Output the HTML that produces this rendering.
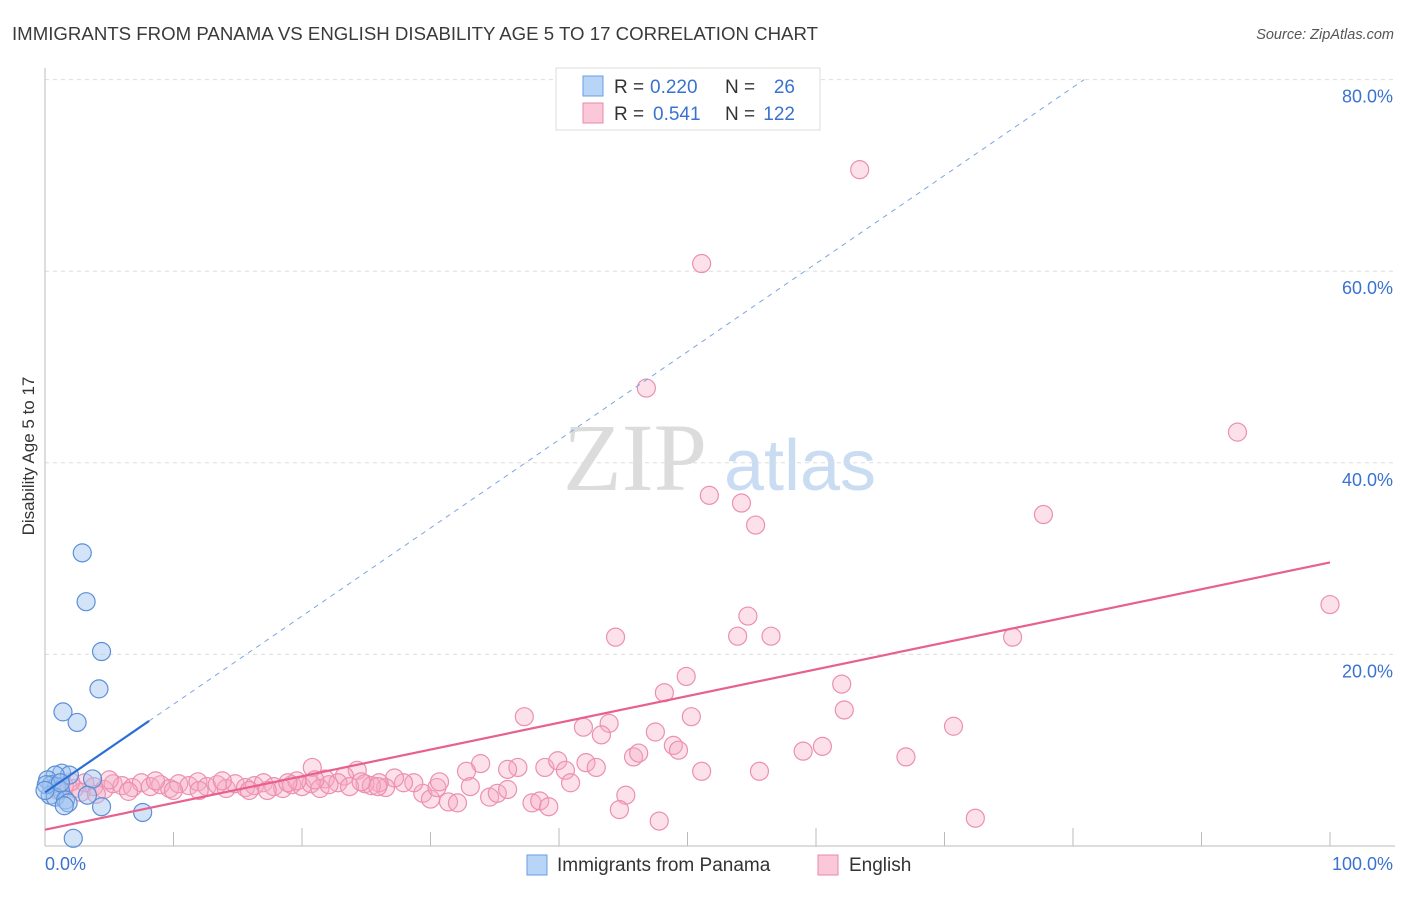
<!DOCTYPE html>
<html><head><meta charset="utf-8"><style>
body{margin:0;background:#fff;font-family:"Liberation Sans",sans-serif}
</style></head><body>
<svg id="chart" width="1406" height="892" xmlns="http://www.w3.org/2000/svg" font-family="Liberation Sans, sans-serif">
<text x="12" y="40" font-size="18" fill="#3a3a3a" textLength="806" lengthAdjust="spacingAndGlyphs">IMMIGRANTS FROM PANAMA VS ENGLISH DISABILITY AGE 5 TO 17 CORRELATION CHART</text>
<text x="1394" y="39" font-size="14.5" fill="#555" text-anchor="end" font-style="italic">Source: ZipAtlas.com</text>
<g>
<text x="635" y="490" font-size="96" font-family="Liberation Serif, serif" fill="#dcdcdc" text-anchor="middle">ZIP</text>
<text x="800" y="490" font-size="72" fill="#c9dcf2" text-anchor="middle">atlas</text>
</g>
<text transform="translate(34,456) rotate(-90)" font-size="17" fill="#333" text-anchor="middle">Disability Age 5 to 17</text>
<g id="grid"></g>
<g id="axes"></g>
<g id="points"></g>
<g id="lines"></g>
<g>
<rect x="556" y="68" width="264" height="62" fill="#fff" stroke="#ddd"/>
<rect x="583" y="76" width="20" height="20" fill="#b8d4f6" stroke="#6a9ee0"/>
<rect x="583" y="103" width="20" height="20" fill="#fac8d8" stroke="#e88aac"/>
<text x="614" y="93" font-size="19" fill="#333">R =</text>
<text x="650" y="93" font-size="19" fill="#3a72d0">0.220</text>
<text x="725" y="93" font-size="19" fill="#333">N =</text>
<text x="795" y="93" font-size="19" fill="#3a72d0" text-anchor="end">26</text>
<text x="614" y="120" font-size="19" fill="#333">R =</text>
<text x="653" y="120" font-size="19" fill="#3a72d0">0.541</text>
<text x="725" y="120" font-size="19" fill="#333">N =</text>
<text x="795" y="120" font-size="19" fill="#3a72d0" text-anchor="end">122</text>
</g>
<g>
<rect x="527" y="855" width="20" height="20" fill="#b8d4f6" stroke="#6a9ee0"/>
<text x="557" y="871" font-size="19" fill="#333">Immigrants from Panama</text>
<rect x="818" y="855" width="20" height="20" fill="#fac8d8" stroke="#e88aac"/>
<text x="849" y="871" font-size="19" fill="#333">English</text>
</g>
</svg>
<script>
const yTicks=[20,40,60,80];
const yTickLabels=["20.0%","40.0%","60.0%","80.0%"];
const xTicks=[0,10,20,30,40,50,60,70,80,90,100];
const xTickLabels=["0.0%","100.0%"];
const bluePoints=[[2.9,30.6],[3.2,25.5],[4.4,20.3],[4.2,16.4],[1.4,14.0],[2.5,12.9],[1.3,7.6],[1.9,7.4],[3.7,7.0],[0.8,7.4],[0.2,6.9],[0.5,6.4],[0.9,6.2],[1.2,5.8],[0.4,5.3],[0.8,5.1],[1.6,4.8],[1.8,4.5],[1.5,4.2],[3.3,5.3],[4.4,4.1],[7.6,3.5],[2.2,0.8],[0.1,6.4],[1.2,6.6],[0,5.8]];
const pinkPoints=[[63.4,70.6],[51.1,60.8],[46.8,47.8],[92.8,43.2],[51.7,36.6],[54.2,35.8],[55.3,33.5],[77.7,34.6],[100,25.2],[44.4,21.8],[53.9,21.9],[54.7,24.0],[56.5,21.9],[75.3,21.8],[49.9,17.7],[48.2,16.0],[62.0,16.9],[62.2,14.2],[37.3,13.5],[50.3,13.5],[70.7,12.5],[41.9,12.4],[43.9,12.8],[43.3,11.6],[47.5,11.9],[48.9,10.5],[59.0,9.9],[60.5,10.4],[67.0,9.3],[45.8,9.3],[46.2,9.7],[49.3,10.0],[51.1,7.8],[55.6,7.8],[33.9,8.6],[36.8,8.2],[36.0,8.0],[38.9,8.2],[39.9,8.9],[40.5,7.9],[42.1,8.7],[42.9,8.2],[40.9,6.6],[32.8,7.8],[33.1,6.2],[45.2,5.3],[44.7,3.8],[47.8,2.6],[72.4,2.9],[37.9,4.5],[38.5,4.7],[39.2,4.1],[34.6,5.1],[35.2,5.5],[36.0,5.9],[29.4,5.5],[30.0,4.9],[31.4,4.6],[32.1,4.5],[30.5,6.1],[30.7,6.7],[28.7,6.6],[27.9,6.6],[27.2,7.1],[26.5,6.1],[26.0,6.6],[24.3,7.9],[20.8,8.2],[23.3,7.3],[21.8,7.0],[22.8,6.6],[24.9,6.5],[25.4,6.3],
[1.5,6.3],[2.3,6.0],[3.1,6.6],[3.8,6.2],[4.6,5.9],[5.3,6.5],[6.0,6.3],[6.8,6.1],[7.5,6.6],[8.2,6.2],[9.0,6.4],[9.7,6.0],[10.4,6.5],[11.2,6.3],[11.9,6.7],[12.6,6.2],[13.4,6.4],[14.1,6.0],[14.8,6.5],[15.6,6.1],[16.3,6.3],[17.0,6.6],[17.8,6.2],[18.5,6.0],[19.2,6.4],[20.0,6.2],[20.7,6.5],[21.4,6.0],[22.1,6.4],[2.8,5.6],[5.0,6.9],[8.6,6.8],[12.0,5.8],[15.9,5.8],[19.6,6.8],[1.0,5.8],[2.0,6.7],[4.0,5.4],[6.5,5.7],[10.0,5.8],[13.8,6.8],[17.3,5.8],[18.9,6.6],[21.0,6.9],[23.7,6.2],[24.6,6.7],[25.9,6.2]];
const blueTrend=[5.6,0.92];   // intercept, slope
const blueSolidEnd=[8.1];
const pinkTrend=[1.7,0.279];
const NS="http://www.w3.org/2000/svg";
function sx(v){return 45+v*12.85;}
function sy(v){return 846-v*9.58;}
function mk(tag,attrs,parent){const e=document.createElementNS(NS,tag);for(const k in attrs)e.setAttribute(k,attrs[k]);document.getElementById(parent).appendChild(e);return e;}
yTicks.forEach((t,i)=>{
 const g=mk('line',{x1:45,x2:1395,y1:sy(t),y2:sy(t),stroke:'#ddd','stroke-dasharray':'4,4'},'grid');
 
 
 const l=mk('text',{x:1393,y:sy(t)+23,'font-size':18,fill:'#3a72d0','text-anchor':'end'},'grid');
 l.textContent=yTickLabels[i];
 
 
});
const ax=mk('line',{x1:45,x2:45,y1:68,y2:846,stroke:'#bbb'},'axes');


const bx=mk('line',{x1:45,x2:1395,y1:846,y2:846,stroke:'#bbb'},'axes');


xTicks.forEach(t=>{
 const tk=mk('line',{x1:sx(t),x2:sx(t),y1:846,y2:(t%20===0&&t>0&&t<100)?828:832,stroke:'#bbb'},'axes');
 
 
});
const x0=mk('text',{x:45,y:870,'font-size':18,fill:'#3a72d0'},'axes');x0.textContent=xTickLabels[0];


const x1=mk('text',{x:1393,y:870,'font-size':18,fill:'#3a72d0','text-anchor':'end'},'axes');x1.textContent=xTickLabels[1];


pinkPoints.forEach(p=>{
 const c=mk('circle',{cx:sx(p[0]),cy:sy(p[1]),r:9,fill:'rgba(246,170,196,0.35)',stroke:'#ec8fb0','stroke-width':1.2},'points');
 
 
});
bluePoints.forEach(p=>{
 const c=mk('circle',{cx:sx(p[0]),cy:sy(p[1]),r:9,fill:'rgba(160,196,240,0.45)',stroke:'#5b8fd8','stroke-width':1.2},'points');
 
 
});
const xEndDash=(80-blueTrend[0])/blueTrend[1];
const bd=mk('line',{x1:sx(blueSolidEnd[0]),y1:sy(blueTrend[0]+blueTrend[1]*blueSolidEnd[0]),x2:sx(xEndDash),y2:sy(80),stroke:'#7aa6e0','stroke-width':1,'stroke-dasharray':'5,5'},'lines');


const bs=mk('line',{x1:sx(0),y1:sy(blueTrend[0]),x2:sx(blueSolidEnd[0]),y2:sy(blueTrend[0]+blueTrend[1]*blueSolidEnd[0]),stroke:'#2a6fd6','stroke-width':2.2},'lines');


const ps=mk('line',{x1:sx(0),y1:sy(pinkTrend[0]),x2:sx(100),y2:sy(pinkTrend[0]+pinkTrend[1]*100),stroke:'#e8608e','stroke-width':2.2},'lines');


</script>
</body></html>
